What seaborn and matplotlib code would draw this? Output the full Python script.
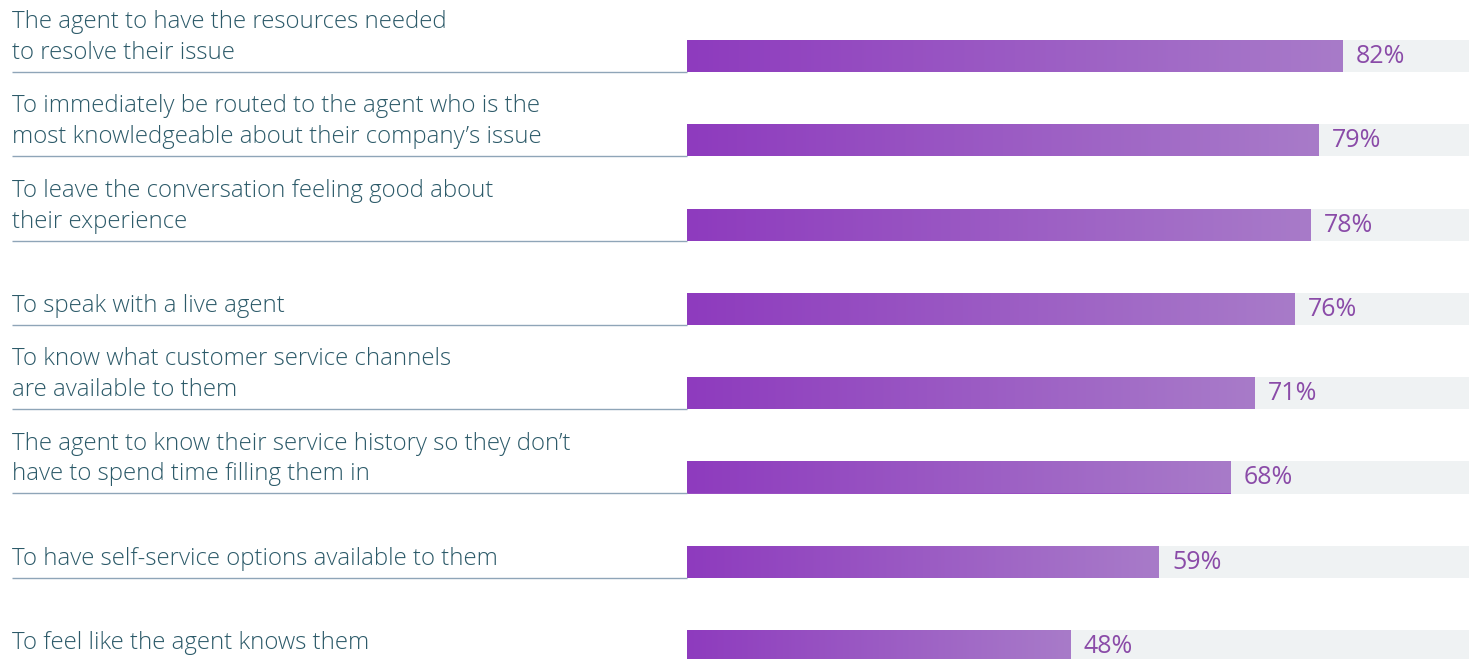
import matplotlib
matplotlib.use("Agg")
import matplotlib.pyplot as plt
import seaborn as sns
import numpy as np
import pandas as pd
from matplotlib.colors import LinearSegmentedColormap

categories = [
    "The agent to have the resources needed\nto resolve their issue",
    "To immediately be routed to the agent who is the\nmost knowledgeable about their company\u2019s issue",
    "To leave the conversation feeling good about\ntheir experience",
    "To speak with a live agent",
    "To know what customer service channels\nare available to them",
    "The agent to know their service history so they don\u2019t\nhave to spend time filling them in",
    "To have self-service options available to them",
    "To feel like the agent knows them",
]
values = [82, 79, 78, 76, 71, 68, 59, 48]
value_labels = ["82%", "79%", "78%", "76%", "71%", "68%", "59%", "48%"]

sns.set_theme(style="white")
plt.rcParams["font.family"] = ["Open Sans", "DejaVu Sans"]

W, H = 1469, 659
fig = plt.figure(figsize=(W / 100, H / 100), dpi=100)
ax = fig.add_axes([0, 0, 1, 1])

px_per_unit_x = 8.0
x0_px = 687
xmin = -x0_px / px_per_unit_x
xmax = (W - x0_px) / px_per_unit_x

row_px = 84.3
first_center = 56
ymin = -first_center / row_px
ymax = (H - first_center) / row_px
bar_h = 32 / row_px

df = pd.DataFrame({"cat": categories, "val": values, "bg": [100] * len(values)})

sns.barplot(data=df, y="cat", x="bg", orient="h", color="#EFF2F3", width=bar_h,
            ax=ax, saturation=1, linewidth=0)
n_bg = len(ax.patches)
sns.barplot(data=df, y="cat", x="val", orient="h", color="#9A4FC2", width=bar_h,
            ax=ax, saturation=1, linewidth=0)

cmap = LinearSegmentedColormap.from_list("g", ["#8E3BBE", "#A87BC9"])
grad = np.linspace(0, 1, 256).reshape(1, -1)
for p in ax.patches[n_bg:]:
    x, y = p.get_x(), p.get_y()
    w, h = p.get_width(), p.get_height()
    im = ax.imshow(grad, cmap=cmap, aspect="auto", extent=[x, x + w, y + h, y],
                   zorder=p.get_zorder() + 0.1, interpolation="bicubic")
    im.set_clip_path(p)

ax.set_xlim(xmin, xmax)
ax.set_ylim(ymax, ymin)
ax.axis("off")

label_x = (12 - x0_px) / px_per_unit_x
for i, (cat, v, lab) in enumerate(zip(categories, values, value_labels)):
    ybot = i + bar_h / 2
    ax.plot([label_x, 0], [ybot, ybot], color="#8FA5B8", lw=1.0, solid_capstyle="butt")
    ax.text(label_x, ybot - 13 / row_px, cat, ha="left", va="baseline",
            fontsize=17.3, color="#2C5A69", fontweight="light", linespacing=1.38)
    ax.text(v + 13 / px_per_unit_x, i + 7 / row_px, lab, ha="left", va="baseline",
            fontsize=18, color="#8A4BA8", fontweight="normal")

fig.savefig("out.png", dpi=100)
